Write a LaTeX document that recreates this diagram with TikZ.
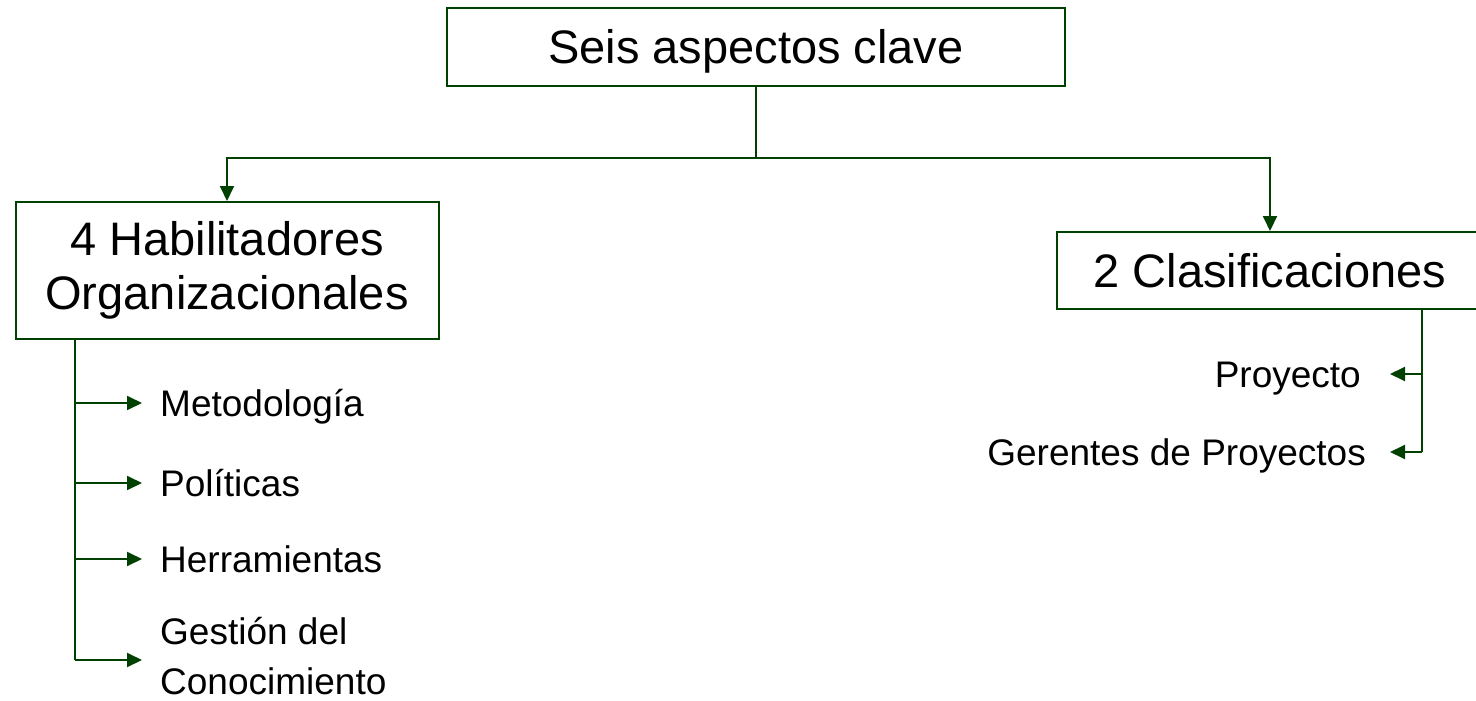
\documentclass[tikz,border=0pt]{standalone}
\usepackage{fontspec}
\setmainfont{Liberation Sans}
\usetikzlibrary{arrows.meta}
\definecolor{linegreen}{RGB}{0,64,0}
\begin{document}
\begin{tikzpicture}[x=1pt,y=-1pt,
  box/.style={draw=linegreen, line width=2pt, inner sep=0pt, align=center,
    font=\fontsize{47}{54}\selectfont},
  onebox/.style={box, text height=34pt, text depth=0pt},
  item/.style={inner sep=0pt, font=\fontsize{37}{50}\selectfont,
    text height=26pt, text depth=0pt},
  twoline/.style={inner sep=0pt, align=left, font=\fontsize{37}{50}\selectfont},
  conn/.style={draw=linegreen, line width=2pt, -{Triangle[length=15pt,width=14pt]}},
  trunk/.style={draw=linegreen, line width=2pt}]
\clip (0,0) rectangle (1476,701);
\fill[white] (0,0) rectangle (1476,701);

% boxes
\node[onebox, minimum width=618pt, minimum height=78pt] (top) at (756,47) {Seis aspectos clave};
\node[box, minimum width=423pt, minimum height=137pt] (hab) at (227,270.5) {4 Habilitadores\\Organizacionales};
\node[onebox, minimum width=426pt, minimum height=77pt] (cla) at (1270,270.5) {2 Clasificaciones};

% left items
\node[item, anchor=west] (met) at (160,403) {Metodología};
\node[item, anchor=west] (pol) at (160,483) {Políticas};
\node[item, anchor=west] (her) at (160,559) {Herramientas};
\node[twoline, anchor=west] (ges) at (160,656) {Gestión del\\Conocimiento};

% right items
\node[item, anchor=east] (pro) at (1361,374) {Proyecto};
\node[item, anchor=east] (ger) at (1366,452) {Gerentes de Proyectos};

% top split
\coordinate (split) at (top.south |- 0,158);
\draw[trunk] (top.south) -- (split);
\draw[conn] (split) -| (hab.north);
\draw[conn] (split) -| (cla.north);

% left trunk and branches
\coordinate (lstem) at ([xshift=60pt]hab.south west);
\draw[trunk] (lstem) -- (lstem |- 0,660);
\draw[conn] (met.west -| lstem) -- ([xshift=-18pt]met.west);
\draw[conn] (pol.west -| lstem) -- ([xshift=-18pt]pol.west);
\draw[conn] (her.west -| lstem) -- ([xshift=-18pt]her.west);
\draw[conn] (lstem |- 0,660) -- (142,660);

% right trunk and branches
\coordinate (rstem) at ([xshift=152pt]cla.south);
\draw[trunk] (rstem) -- (ger.east -| rstem);
\draw[conn] (pro.east -| rstem) -- ([xshift=29pt]pro.east);
\draw[conn] (ger.east -| rstem) -- ([xshift=24pt]ger.east);
\end{tikzpicture}
\end{document}
